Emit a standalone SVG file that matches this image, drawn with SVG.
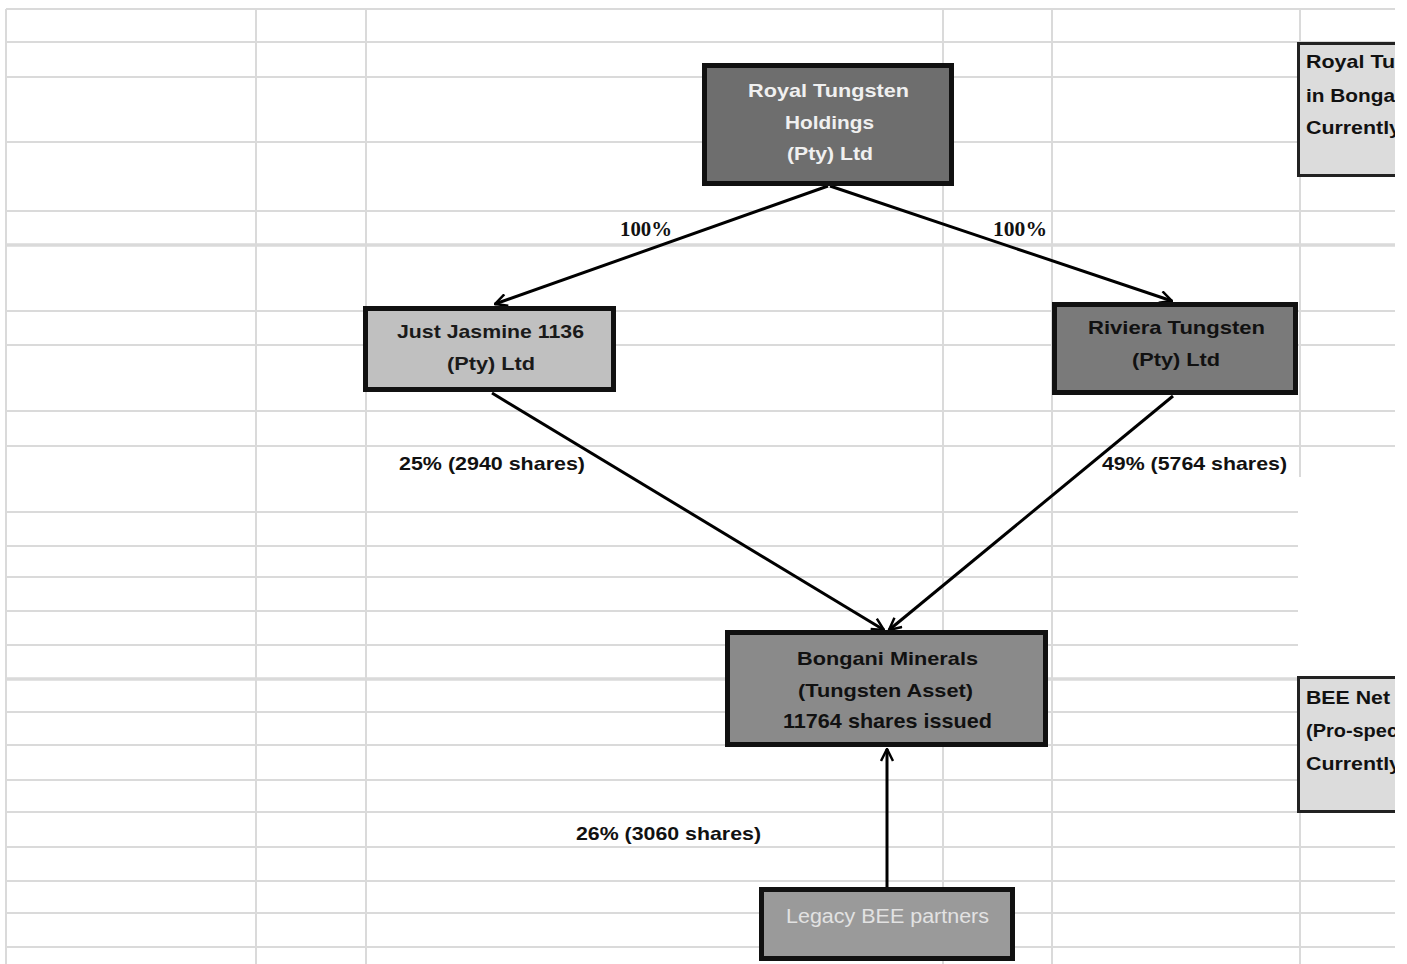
<svg xmlns="http://www.w3.org/2000/svg" width="1407" height="964" viewBox="0 0 1407 964">
<defs>
<style>
.g{stroke:#dadada;stroke-width:2;fill:none}
.gt{stroke:#dadada;stroke-width:3.5;fill:none}
.box{stroke:#111;stroke-width:5}
.side{stroke:#222;stroke-width:3}
.t{font-family:"Liberation Sans",Arial,sans-serif;font-weight:bold;font-size:19px;text-anchor:middle}
.tn{font-family:"Liberation Sans",Arial,sans-serif;font-weight:normal;font-size:20px;text-anchor:middle}
.lbl{font-family:"Liberation Sans",Arial,sans-serif;font-weight:bold;font-size:19px;fill:#111}
.pct{font-family:"Liberation Serif","Times New Roman",serif;font-weight:bold;font-size:20px;fill:#111}
.side-t{font-family:"Liberation Sans",Arial,sans-serif;font-weight:bold;font-size:19px;fill:#111}
.con{stroke:#000;stroke-width:3;fill:none}
</style>
<marker id="arr" viewBox="0 0 14 14" refX="13" refY="7" markerWidth="14" markerHeight="14" markerUnits="userSpaceOnUse" orient="auto">
<path d="M1,1 L13,7 L1,13" fill="none" stroke="#000" stroke-width="2.5"/>
</marker>
<clipPath id="clipR"><rect x="0" y="0" width="1395" height="964"/></clipPath>
</defs>
<rect width="1407" height="964" fill="#fff"/>
<g id="grid">
<path class="g" d="M6,9 H1395 M6,42 H1395 M6,77 H1395 M6,142 H1395 M6,211 H1395 M6,311 H1395 M6,345 H1395 M6,411 H1395 M6,446 H1395 M6,512 H1298 M6,546 H1298 M6,577 H1298 M6,611 H1298 M6,645 H1298 M6,712 H1298 M6,745 H1298 M6,780 H1298 M6,812 H1298 M6,847 H1395 M6,881 H1395 M6,913 H1395 M6,947 H1395"/>
<path class="gt" d="M6,245 H1395 M6,679 H1298"/>
<path class="g" d="M6,9 V964 M256,9 V964 M366,9 V964 M943,9 V964 M1052,9 V964 M1300,9 V477 M1300,813 V964"/>
</g>
<g id="connectors">
<line class="con" x1="828" y1="186" x2="495" y2="304" marker-end="url(#arr)"/>
<line class="con" x1="830" y1="186" x2="1172" y2="301" marker-end="url(#arr)"/>
<line class="con" x1="492" y1="393" x2="884" y2="630" marker-end="url(#arr)"/>
<line class="con" x1="1173" y1="396" x2="889" y2="630" marker-end="url(#arr)"/>
<line class="con" x1="887" y1="887" x2="887" y2="749" marker-end="url(#arr)"/>
<text class="pct" x="620" y="236" textLength="52" lengthAdjust="spacingAndGlyphs">100%</text>
<text class="pct" x="993" y="236" textLength="54" lengthAdjust="spacingAndGlyphs">100%</text>
<text class="lbl" x="399" y="470" textLength="186" lengthAdjust="spacingAndGlyphs">25% (2940 shares)</text>
<text class="lbl" x="1102" y="470" textLength="185" lengthAdjust="spacingAndGlyphs">49% (5764 shares)</text>
<text class="lbl" x="576" y="840" textLength="185" lengthAdjust="spacingAndGlyphs">26% (3060 shares)</text>
</g>
<g id="royal">
<rect class="box" x="704.5" y="65.5" width="247" height="118" fill="#6e6e6e"/>
<text class="t" fill="#f0f0f0" x="828.5" y="97" textLength="161" lengthAdjust="spacingAndGlyphs">Royal Tungsten</text>
<text class="t" fill="#f0f0f0" x="829.5" y="129" textLength="89" lengthAdjust="spacingAndGlyphs">Holdings</text>
<text class="t" fill="#f0f0f0" x="830" y="160" textLength="86" lengthAdjust="spacingAndGlyphs">(Pty) Ltd</text>
</g>
<g id="jasmine">
<rect class="box" x="365.5" y="308.5" width="248" height="81" fill="#c0c0c0"/>
<text class="t" fill="#1a1a1a" x="490.5" y="338" textLength="187" lengthAdjust="spacingAndGlyphs">Just Jasmine 1136</text>
<text class="t" fill="#1a1a1a" x="491" y="370" textLength="88" lengthAdjust="spacingAndGlyphs">(Pty) Ltd</text>
</g>
<g id="riviera">
<rect class="box" x="1054.5" y="304.5" width="241" height="88" fill="#7a7a7a"/>
<text class="t" fill="#111" x="1176.5" y="334" textLength="177" lengthAdjust="spacingAndGlyphs">Riviera  Tungsten</text>
<text class="t" fill="#111" x="1176" y="366" textLength="88" lengthAdjust="spacingAndGlyphs">(Pty) Ltd</text>
</g>
<g id="bongani">
<rect class="box" x="727.5" y="632.5" width="318" height="112" fill="#8a8a8a"/>
<text class="t" fill="#111" x="887.5" y="665" textLength="181" lengthAdjust="spacingAndGlyphs">Bongani Minerals</text>
<text class="t" fill="#111" x="885.5" y="697" textLength="175" lengthAdjust="spacingAndGlyphs">(Tungsten Asset)</text>
<text class="t" fill="#111" x="887.5" y="728" style="font-size:21px" textLength="209" lengthAdjust="spacingAndGlyphs">11764 shares issued</text>
</g>
<g id="legacy">
<rect class="box" x="761.5" y="889.5" width="251" height="69" fill="#9a9a9a"/>
<text class="tn" fill="#e2e2e2" x="887.5" y="923" textLength="203" lengthAdjust="spacingAndGlyphs">Legacy BEE partners</text>
</g>
<g id="note-royal" clip-path="url(#clipR)">
<rect class="side" x="1298.5" y="43.5" width="120" height="132" fill="#dcdcdc"/>
<text class="side-t" x="1306" y="68" textLength="89" lengthAdjust="spacingAndGlyphs">Royal Tu</text>
<text class="side-t" x="1306" y="102" textLength="89" lengthAdjust="spacingAndGlyphs">in Bonga</text>
<text class="side-t" x="1306" y="134" textLength="95" lengthAdjust="spacingAndGlyphs">Currently</text>
</g>
<g id="note-bee" clip-path="url(#clipR)">
<rect class="side" x="1298.5" y="677.5" width="120" height="134" fill="#dcdcdc"/>
<text class="side-t" x="1306" y="704" textLength="84" lengthAdjust="spacingAndGlyphs">BEE Net</text>
<text class="side-t" x="1306" y="737" textLength="92" lengthAdjust="spacingAndGlyphs">(Pro-spec</text>
<text class="side-t" x="1306" y="770" textLength="95" lengthAdjust="spacingAndGlyphs">Currently</text>
</g>
</svg>
